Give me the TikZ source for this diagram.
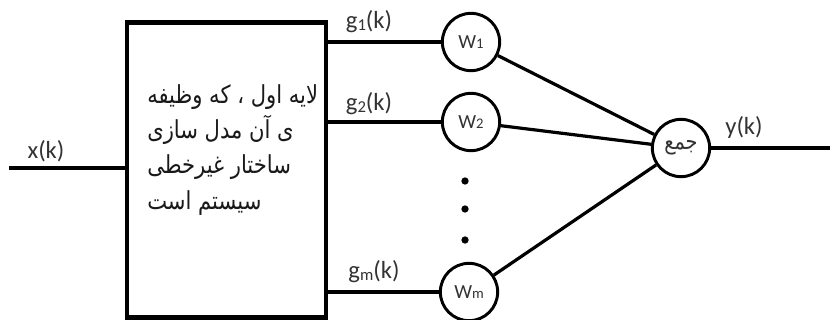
\documentclass[tikz,border=0pt]{standalone}
\usepackage{fontspec}
\setmainfont{Carlito}
\newfontfamily\arabicfont[Script=Arabic,FakeStretch=0.85]{DejaVu Sans}
\TeXXeTstate=1
\newcommand{\rtlline}[1]{\hbox{\beginR #1\endR}}
\begin{document}
\begin{tikzpicture}[x=0.75pt,y=-0.75pt,
  heavy/.style={line width=3.3pt},
  wire/.style={line width=2.4pt},
  weight/.style={circle,draw,line width=2.2pt,minimum size=43pt,inner sep=0pt,font=\fontsize{15}{17}\selectfont,text=black!80},
  sig/.style={font=\fontsize{18.5}{21}\selectfont,text=black!80},
  dotmark/.style={circle,fill=black,inner sep=0pt,minimum size=5.5pt}]
\useasboundingbox (0,0) rectangle (830,320);

% first layer block
\node[draw,heavy,minimum width=149pt,minimum height=221pt,inner sep=0pt] (layer) at (226.5,170) {};
\node[anchor=north west,align=left,inner sep=0pt,text=black!90,font=\arabicfont\fontsize{18.6}{26.5}\selectfont] (desc) at (147,84)
  {\rtlline{لایه اول ، که وظیفه}\\
   \rtlline{ی آن مدل سازی}\\
   \rtlline{ساختار غیرخطی}\\
   \rtlline{سیستم است}};

% input
\coordinate (xin) at (9,168);
\draw[heavy] (xin) -- (xin -| layer.west);
\node[sig] (xlbl) at (46,151) {x(k)};

% weights
\node[weight] (w1) at (471,42) {W\raisebox{-0.3pt}{\fontsize{11}{12}\selectfont 1}};
\node[weight] (w2) at (471,122) {W\raisebox{-0.3pt}{\fontsize{11}{12}\selectfont 2}};
\node[weight] (wm) at (469,292) {W\raisebox{-0.3pt}{\fontsize{11}{12}\selectfont m}};

\draw[heavy] (w1 -| layer.east) -- (w1.west);
\draw[heavy] (w2 -| layer.east) -- (w2.west);
\draw[heavy] (wm -| layer.east) -- (wm.west);

\node[sig] (g1) at (369,22) {g\raisebox{-1.5pt}{\fontsize{12.5}{14}\selectfont 1}(k)};
\node[sig] (g2) at (369,104) {g\raisebox{-1.5pt}{\fontsize{12.5}{14}\selectfont 2}(k)};
\node[sig] (gm) at (374,272) {g\raisebox{-1.5pt}{\fontsize{12.5}{14}\selectfont m}(k)};

% ellipsis between weights
\node[dotmark] (d1) at (465,181) {};
\node[dotmark] (d2) at (465,209) {};
\node[dotmark] (d3) at (465,240) {};

% summation
\node[weight,font=\arabicfont\fontsize{17}{19}\selectfont] (sum) at (681,148) {جمع};
\draw[wire] (w1) -- (sum);
\draw[wire] (w2) -- (sum);
\draw[wire] (wm) -- (sum);

% output
\coordinate (yout) at (830,148);
\draw[heavy] (sum.east) -- (yout);
\node[sig] (ylbl) at (744,127) {y(k)};
\end{tikzpicture}
\end{document}
